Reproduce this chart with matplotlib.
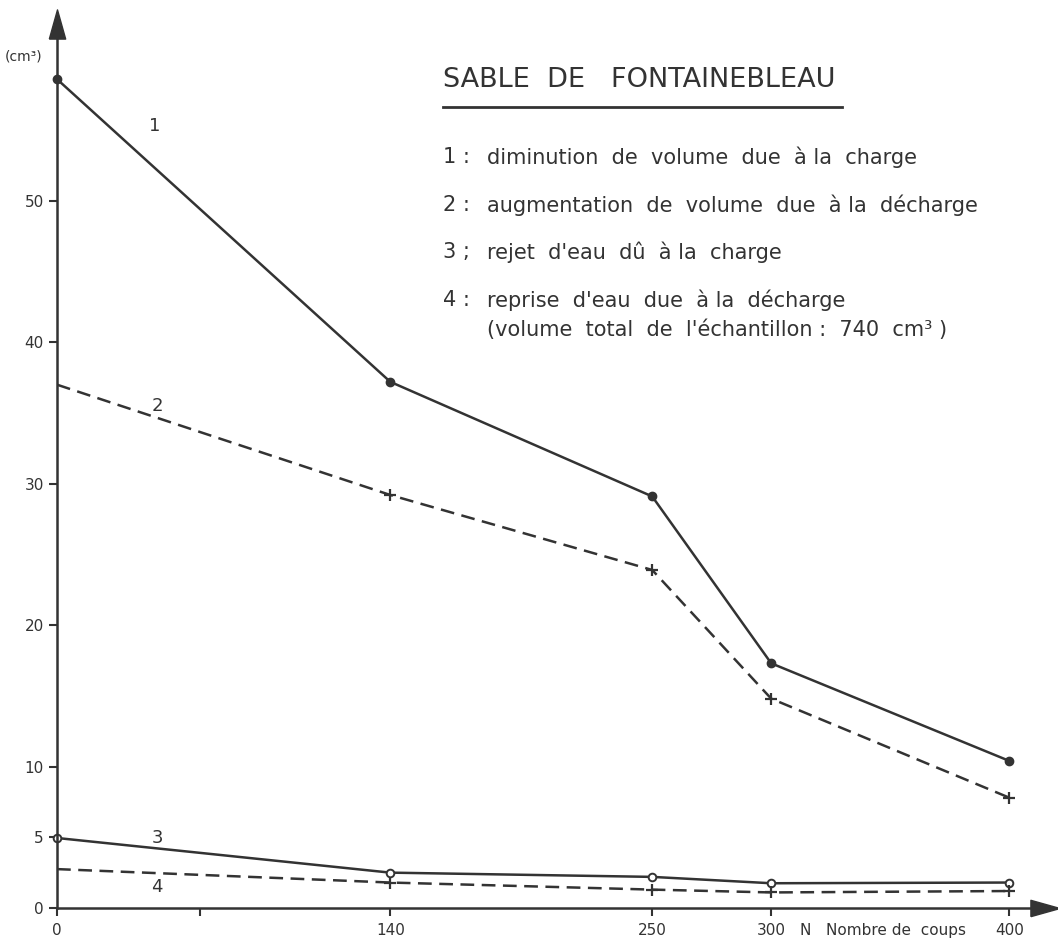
import matplotlib

matplotlib.use("Agg")

import matplotlib.pyplot as plt

coups = [0, 140, 250, 300, 400]
diminution_charge = [58.6, 37.2, 29.1, 17.3, 10.4]
augmentation_decharge = [37.0, 29.2, 23.9, 14.8, 7.8]
rejet_eau = [4.95, 2.5, 2.2, 1.75, 1.8]
reprise_eau = [2.75, 1.8, 1.3, 1.1, 1.2]

x_ticks = [0, 60, 140, 250, 300, 400]
x_tick_labels = ["0", "", "140", "250", "300", "400"]
y_ticks = [0, 5, 10, 20, 30, 40, 50]

legend_lines = [
    ("1 :", "diminution  de  volume  due  à la  charge"),
    ("2 :", "augmentation  de  volume  due  à la  décharge"),
    ("3 ;", "rejet  d'eau  dû  à la  charge"),
    ("4 :", "reprise  d'eau  due  à la  décharge"),
    ("", "(volume  total  de  l'échantillon :  740  cm³ )"),
]

INK = "#333333"
W, H = 1058, 940

fig = plt.figure(figsize=(W / 100, H / 100), dpi=100)
ax = fig.add_axes((57 / W, (H - 908) / H, (1045 - 57) / W, (908 - 24) / H))
ax.set_xlim(0, 415)
ax.set_ylim(0, 62.5)

for side in ("top", "right"):
    ax.spines[side].set_visible(False)
for side in ("left", "bottom"):
    ax.spines[side].set_color(INK)
    ax.spines[side].set_linewidth(1.8)

ax.set_xticks(x_ticks)
ax.set_xticklabels(x_tick_labels)
ax.set_yticks(y_ticks)
ax.tick_params(colors=INK, labelcolor=INK, labelsize=11, width=1.5, length=6)
ax.tick_params(axis="x", pad=5)

# arrow heads on both axes (narrow triangles)
up_arrow = [(-0.28, -0.5), (0.28, -0.5), (0, 0.5), (-0.28, -0.5)]
right_arrow = [(-0.5, -0.28), (0.5, 0), (-0.5, 0.28), (-0.5, -0.28)]
ax.plot(0, 1, marker=up_arrow, color=INK, ms=21, transform=ax.get_xaxis_transform(),
        clip_on=False)
ax.plot(1, 0, marker=right_arrow, color=INK, ms=21, transform=ax.get_yaxis_transform(),
        clip_on=False)

lw = 1.8
ax.plot(coups, diminution_charge, "-", color=INK, lw=lw, marker="o", ms=6, clip_on=False)
ax.plot(coups, augmentation_decharge, "--", color=INK, lw=lw, dashes=(5.5, 3))
ax.plot(coups[1:], augmentation_decharge[1:], "+", color=INK, ms=8, mew=1.6, clip_on=False)
ax.plot(coups, rejet_eau, "-", color=INK, lw=lw, marker="o", ms=5.5, mfc="white",
        mew=1.4, clip_on=False)
ax.plot(coups, reprise_eau, "--", color=INK, lw=lw, dashes=(5.5, 3))
ax.plot(coups[1:], reprise_eau[1:], "+", color=INK, ms=8, mew=1.6, clip_on=False)

# curve numbers
ax.text(41, 55.3, "1", color=INK, fontsize=13, ha="center", va="center")
ax.text(42, 35.5, "2", color=INK, fontsize=13, ha="center", va="center")
ax.text(42, 4.95, "3", color=INK, fontsize=13, ha="center", va="center")
ax.text(42, 1.5, "4", color=INK, fontsize=13, ha="center", va="center")

# axis captions
fig.text(5 / W, 1 - 57 / H, "(cm³)", color=INK, fontsize=10, ha="left", va="center")
fig.text(800 / W, 1 - 930 / H, "N   Nombre de  coups", color=INK, fontsize=11,
         ha="left", va="center")

# title block
fig.text(443 / W, 1 - 80 / H, "SABLE  DE   FONTAINEBLEAU", color=INK,
         fontsize=19.5, ha="left", va="center")
fig.add_artist(plt.Line2D([443 / W, 842 / W], [1 - 107 / H, 1 - 107 / H],
                          color=INK, lw=2))

y_rows = [157, 205, 252, 300, 330]
for (num, label), yp in zip(legend_lines, y_rows):
    if num:
        fig.text(443 / W, 1 - yp / H, num, color=INK, fontsize=15, ha="left", va="center")
    fig.text(487 / W, 1 - yp / H, label, color=INK, fontsize=15, ha="left", va="center")

fig.savefig("out.png", dpi=100)
